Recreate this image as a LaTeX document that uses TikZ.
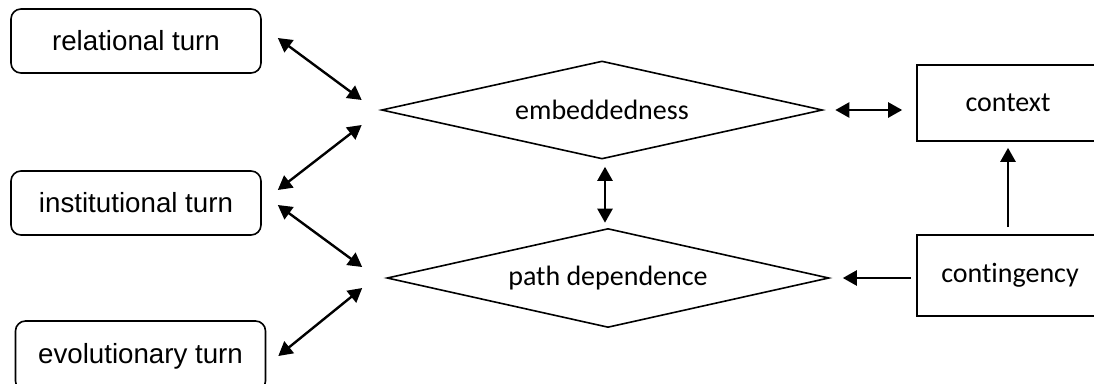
\documentclass[tikz,border=0pt]{standalone}
\usepackage{fontspec}
\newfontfamily\arialf{Liberation Sans}
\newfontfamily\calibrif[Ligatures=NoCommon]{Carlito}
\usetikzlibrary{shapes.geometric,arrows.meta}
\tikzset{
  turnbox/.style={draw, line width=1.6pt, rounded corners=10pt, minimum width=250pt, minimum height=64pt, inner sep=0pt, font=\arialf\fontsize{27.7}{30}\selectfont},
  diam/.style={draw, diamond, line width=1.6pt, aspect=4.5, inner sep=0pt, font=\calibrif\fontsize{28}{30}\selectfont},
  sqbox/.style={draw, line width=1.6pt, inner sep=0pt, font=\calibrif\fontsize{28}{30}\selectfont},
  conn/.style={line width=2.4pt, {Triangle[length=14pt,width=15pt]}-{Triangle[length=14pt,width=15pt]}},
  oneway/.style={line width=2.4pt, -{Triangle[length=14pt,width=15pt]}}
}
\begin{document}
\begin{tikzpicture}[x=1pt,y=-1pt]
\useasboundingbox (0,0) rectangle (1094,383);
\clip (0,0) rectangle (1094,383);
\node[turnbox] (rel) at (136,41) {relational turn};
\node[turnbox] (inst) at (136,203) {institutional turn};
\node[turnbox, minimum height=70pt] (evo) at (140.5,356) {evolutionary turn};
\node[diam, minimum width=441pt, minimum height=98pt] (emb) at (602,110) {embeddedness};
\node[diam, minimum width=442pt, minimum height=99pt] (path) at (608,278) {path dependence};
\node[sqbox, minimum width=182pt, minimum height=76pt] (ctx) at (1008,103) {context};
\node[sqbox, minimum width=186pt, minimum height=81pt] (cont) at (1010,275.5) {contingency};

\draw[conn] ([xshift=16pt,yshift=3pt]rel.east) -- ([xshift=-19pt,yshift=10pt]emb.west);
\draw[conn] ([xshift=16pt,yshift=13pt]inst.east) -- ([xshift=-19pt,yshift=-15pt]emb.west);
\draw[conn] ([xshift=16pt,yshift=-2pt]inst.east) -- ([xshift=-24pt,yshift=11pt]path.west);
\draw[conn] ([xshift=12pt,yshift=0pt]evo.east) -- ([xshift=-24pt,yshift=-10pt]path.west);
\draw[conn] ([xshift=3pt,yshift=-7pt]emb.south) -- ([xshift=-3pt,yshift=5pt]path.north);
\draw[conn] ([xshift=12pt]emb.east) -- ([xshift=-14pt,yshift=-7pt]ctx.west);
\draw[oneway] ([xshift=-5pt,yshift=-2.5pt]cont.west) -- ([xshift=13pt]path.east);
\draw[oneway] ([xshift=-2pt,yshift=7pt]cont.north) -- ([yshift=-6pt]ctx.south);
\end{tikzpicture}
\end{document}
